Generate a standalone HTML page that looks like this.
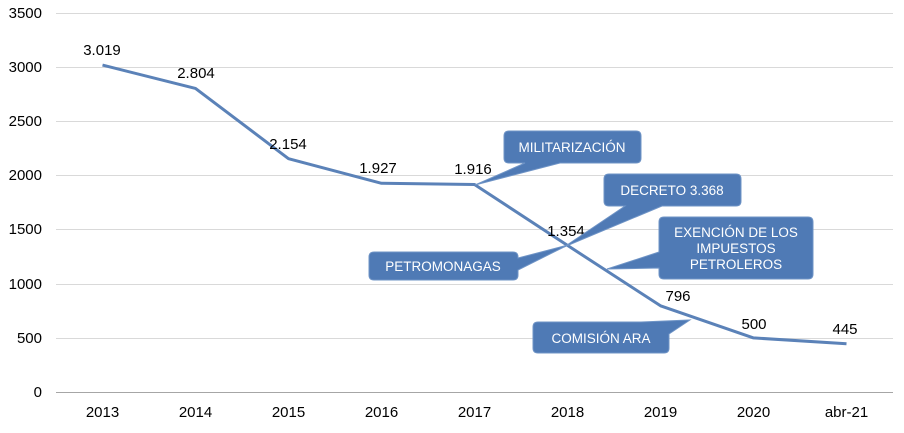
<!DOCTYPE html>
<html><head><meta charset="utf-8"><style>body{margin:0;background:#fff}</style></head><body>
<svg width="904" height="428" xmlns="http://www.w3.org/2000/svg" font-family="Liberation Sans, sans-serif">
<g stroke="#d9d9d9" stroke-width="1">
<line x1="56" x2="893" y1="13.5" y2="13.5"/><line x1="56" x2="893" y1="67.5" y2="67.5"/><line x1="56" x2="893" y1="121.5" y2="121.5"/><line x1="56" x2="893" y1="175.5" y2="175.5"/><line x1="56" x2="893" y1="229.5" y2="229.5"/><line x1="56" x2="893" y1="284.5" y2="284.5"/><line x1="56" x2="893" y1="338.5" y2="338.5"/>
</g>
<line x1="56" x2="893" y1="392.5" y2="392.5" stroke="#a6a6a6"/>
<g font-size="15" fill="#000" text-anchor="end">
<text x="42" y="18">3500</text><text x="42" y="72">3000</text><text x="42" y="126">2500</text><text x="42" y="180">2000</text><text x="42" y="234">1500</text><text x="42" y="289">1000</text><text x="42" y="343">500</text><text x="42" y="397">0</text>
</g>
<g font-size="15" text-anchor="middle">
<text x="102.5" y="417">2013</text><text x="195.5" y="417">2014</text><text x="288.5" y="417">2015</text><text x="381.5" y="417">2016</text><text x="474.5" y="417">2017</text><text x="567.5" y="417">2018</text><text x="660.5" y="417">2019</text><text x="753.5" y="417">2020</text><text x="846.5" y="417">abr-21</text>
</g>
<polyline fill="none" stroke="#5b82b8" stroke-width="3" stroke-linejoin="round" points="102.5,65.1 195.5,88.4 288.5,158.7 381.5,183.3 474.5,184.5 567.5,245.4 660.5,305.8 753.5,337.9 846.5,343.8"/>
<g font-size="15" text-anchor="middle">
<text x="102" y="55">3.019</text><text x="196" y="78">2.804</text><text x="288" y="149">2.154</text><text x="378" y="173">1.927</text><text x="473" y="174">1.916</text><text x="566" y="236">1.354</text><text x="678" y="301">796</text><text x="754" y="329">500</text><text x="845" y="334">445</text>
</g>
<g fill="#4f7ab5" stroke="#6f94c6" stroke-width="1">
<path d="M509,131 H636 Q641,131 641,136 V158 Q641,163 636,163 H560 L475,185 L525,163 H509 Q504,163 504,158 V136 Q504,131 509,131 Z"/>
<path d="M609,174 H736 Q741,174 741,179 V201 Q741,206 736,206 H662 L564,247 L625,206 H609 Q604,206 604,201 V179 Q604,174 609,174 Z"/>
<path d="M374,252 H513 Q518,252 518,257 V258 L568,245 L518,270 V275 Q518,280 513,280 H374 Q369,280 369,275 V257 Q369,252 374,252 Z"/>
<path d="M664,217 H808 Q813,217 813,222 V274 Q813,279 808,279 H664 Q659,279 659,274 V268 L607,269 L659,252 V222 Q659,217 664,217 Z"/>
<path d="M538,322 H641 L690,320 L669,334 V348 Q669,353 664,353 H538 Q533,353 533,348 V327 Q533,322 538,322 Z"/>
</g>
<g font-size="13.5" fill="#fff" text-anchor="middle">
<text x="572" y="152">MILITARIZACIÓN</text>
<text x="672" y="195">DECRETO 3.368</text>
<text x="443" y="271">PETROMONAGAS</text>
<text x="736" y="237">EXENCIÓN DE LOS</text><text x="736" y="253">IMPUESTOS</text><text x="736" y="269">PETROLEROS</text>
<text x="601" y="343">COMISIÓN ARA</text>
</g>
</svg>
</body></html>
